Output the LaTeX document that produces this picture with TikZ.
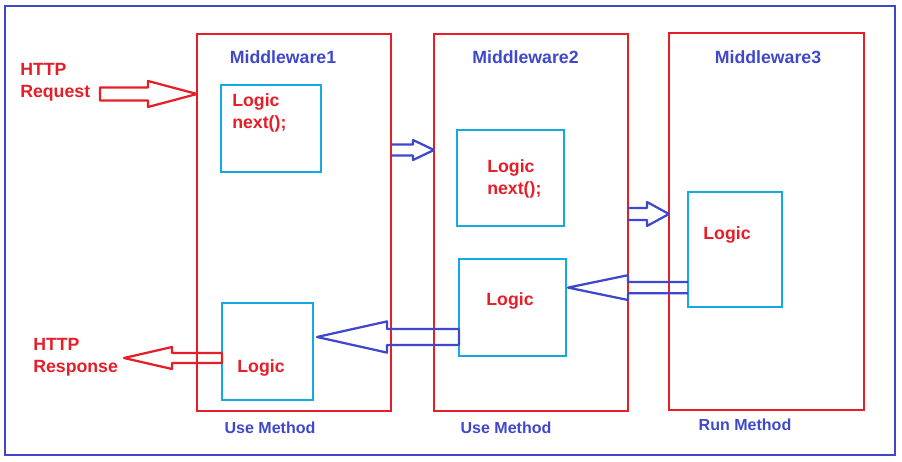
\documentclass[tikz,border=0pt]{standalone}
\usepackage{fontspec}
\setmainfont{Liberation Sans}
\usetikzlibrary{calc}

\begin{document}
\begin{tikzpicture}[scale=0.5]
% Styles
\tikzstyle{none} = []
\tikzstyle{frame}=[draw={rgb,255: red,63; green,72; blue,204}, line width=2pt]
\tikzstyle{redbox}=[draw={rgb,255: red,230; green,30; blue,40}, line width=2pt]
\tikzstyle{logicbox}=[draw={rgb,255: red,20; green,170; blue,225}, line width=2pt]
\tikzstyle{redarrow}=[draw={rgb,255: red,230; green,30; blue,40}, line width=1.6pt, line join=round]
\tikzstyle{bluearrow}=[draw={rgb,255: red,63; green,72; blue,204}, line width=1.6pt, line join=round]
\tikzstyle{title}=[text={rgb,255: red,63; green,72; blue,204}, font=\bfseries\fontsize{12.6}{15}\selectfont]
\tikzstyle{method}=[text={rgb,255: red,63; green,72; blue,204}, font=\bfseries\fontsize{11.4}{14}\selectfont]
\tikzstyle{redtext}=[text={rgb,255: red,230; green,30; blue,40}, font=\bfseries\fontsize{12.6}{15.5}\selectfont, align=left, inner sep=0pt]

\useasboundingbox (0,0) rectangle (45.1,-23.1);

% boxes
\node [style=none] (1) at (0.25, -0.3) {};
\node [style=none] (2) at (44.75, -22.75) {};
\node [style=none] (3) at (9.85, -1.7) {};
\node [style=none] (4) at (19.55, -20.55) {};
\node [style=none] (5) at (21.7, -1.7) {};
\node [style=none] (6) at (31.4, -20.55) {};
\node [style=none] (7) at (33.45, -1.65) {};
\node [style=none] (8) at (43.2, -20.5) {};
\node [style=none] (9) at (11.05, -4.25) {};
\node [style=none] (10) at (16.05, -8.6) {};
\node [style=none] (11) at (22.85, -6.5) {};
\node [style=none] (12) at (28.2, -11.3) {};
\node [style=none] (13) at (34.4, -9.6) {};
\node [style=none] (14) at (39.1, -15.35) {};
\node [style=none] (15) at (22.95, -12.95) {};
\node [style=none] (16) at (28.3, -17.8) {};
\node [style=none] (17) at (11.1, -15.15) {};
\node [style=none] (18) at (15.65, -20) {};

% arrow ends: start, head base, tip
\node [style=none] (20) at (5, -4.7) {};
\node [style=none] (21) at (7.4, -4.7) {};
\node [style=none] (22) at (9.85, -4.7) {};
\node [style=none] (23) at (19.55, -7.5) {};
\node [style=none] (24) at (20.65, -7.5) {};
\node [style=none] (25) at (21.7, -7.5) {};
\node [style=none] (26) at (31.4, -10.7) {};
\node [style=none] (27) at (32.35, -10.7) {};
\node [style=none] (28) at (33.45, -10.7) {};
\node [style=none] (29) at (34.4, -14.38) {};
\node [style=none] (30) at (31.4, -14.38) {};
\node [style=none] (31) at (28.4, -14.38) {};
\node [style=none] (32) at (22.95, -16.85) {};
\node [style=none] (33) at (19.35, -16.85) {};
\node [style=none] (34) at (15.85, -16.85) {};
\node [style=none] (35) at (11.1, -17.9) {};
\node [style=none] (36) at (8.6, -17.9) {};
\node [style=none] (37) at (6.2, -17.9) {};

% texts
\node [style=title] (40) at (14.15, -2.85) {Middleware1};
\node [style=title] (41) at (26.275, -2.85) {Middleware2};
\node [style=title] (42) at (38.4, -2.85) {Middleware3};
\node [style=method] (43) at (13.5, -21.4) {Use Method};
\node [style=method] (44) at (25.3, -21.4) {Use Method};
\node [style=method] (45) at (37.25, -21.25) {Run Method};
\node [style=redtext, anchor=west] (46) at (1.0, -4.125) {HTTP\\Request};
\node [style=redtext, anchor=west] (47) at (1.65, -17.875) {HTTP\\Response};
\node [style=redtext, anchor=west] (48) at (11.6, -5.65) {Logic\\next();};
\node [style=redtext, anchor=west] (49) at (24.35, -8.95) {Logic\\next();};
\node [style=redtext] (50) at (36.35, -11.75) {Logic};
\node [style=redtext] (51) at (25.5, -15.05) {Logic};
\node [style=redtext] (52) at (13.05, -18.4) {Logic};

\draw [style=frame] (1.center) rectangle (2.center);
\draw [style=redbox] (3.center) rectangle (4.center);
\draw [style=redbox] (5.center) rectangle (6.center);
\draw [style=redbox] (7.center) rectangle (8.center);
\draw [style=logicbox] (9.center) rectangle (10.center);
\draw [style=logicbox] (11.center) rectangle (12.center);
\draw [style=logicbox] (13.center) rectangle (14.center);
\draw [style=logicbox] (15.center) rectangle (16.center);
\draw [style=logicbox] (17.center) rectangle (18.center);

\draw [style=redarrow] ($(20.center)+(0,0.33)$) -- ($(21.center)+(0,0.33)$) -- ($(21.center)+(0,0.65)$) -- (22.center) -- ($(21.center)+(0,-0.65)$) -- ($(21.center)+(0,-0.33)$) -- ($(20.center)+(0,-0.33)$) -- cycle;
\draw [style=bluearrow] ($(23.center)+(0,0.28)$) -- ($(24.center)+(0,0.28)$) -- ($(24.center)+(0,0.5)$) -- (25.center) -- ($(24.center)+(0,-0.5)$) -- ($(24.center)+(0,-0.28)$) -- ($(23.center)+(0,-0.28)$);
\draw [style=bluearrow] ($(26.center)+(0,0.3)$) -- ($(27.center)+(0,0.3)$) -- ($(27.center)+(0,0.6)$) -- (28.center) -- ($(27.center)+(0,-0.6)$) -- ($(27.center)+(0,-0.3)$) -- ($(26.center)+(0,-0.3)$);
\draw [style=bluearrow] ($(29.center)+(0,0.28)$) -- ($(30.center)+(0,0.28)$) -- ($(30.center)+(0,0.62)$) -- (31.center) -- ($(30.center)+(0,-0.62)$) -- ($(30.center)+(0,-0.28)$) -- ($(29.center)+(0,-0.28)$);
\draw [style=bluearrow] ($(32.center)+(0,0.4)$) -- ($(33.center)+(0,0.4)$) -- ($(33.center)+(0,0.78)$) -- (34.center) -- ($(33.center)+(0,-0.78)$) -- ($(33.center)+(0,-0.4)$) -- ($(32.center)+(0,-0.4)$) -- cycle;
\draw [style=redarrow] ($(35.center)+(0,0.25)$) -- ($(36.center)+(0,0.25)$) -- ($(36.center)+(0,0.55)$) -- (37.center) -- ($(36.center)+(0,-0.55)$) -- ($(36.center)+(0,-0.25)$) -- ($(35.center)+(0,-0.25)$) -- cycle;
\end{tikzpicture}
\end{document}
